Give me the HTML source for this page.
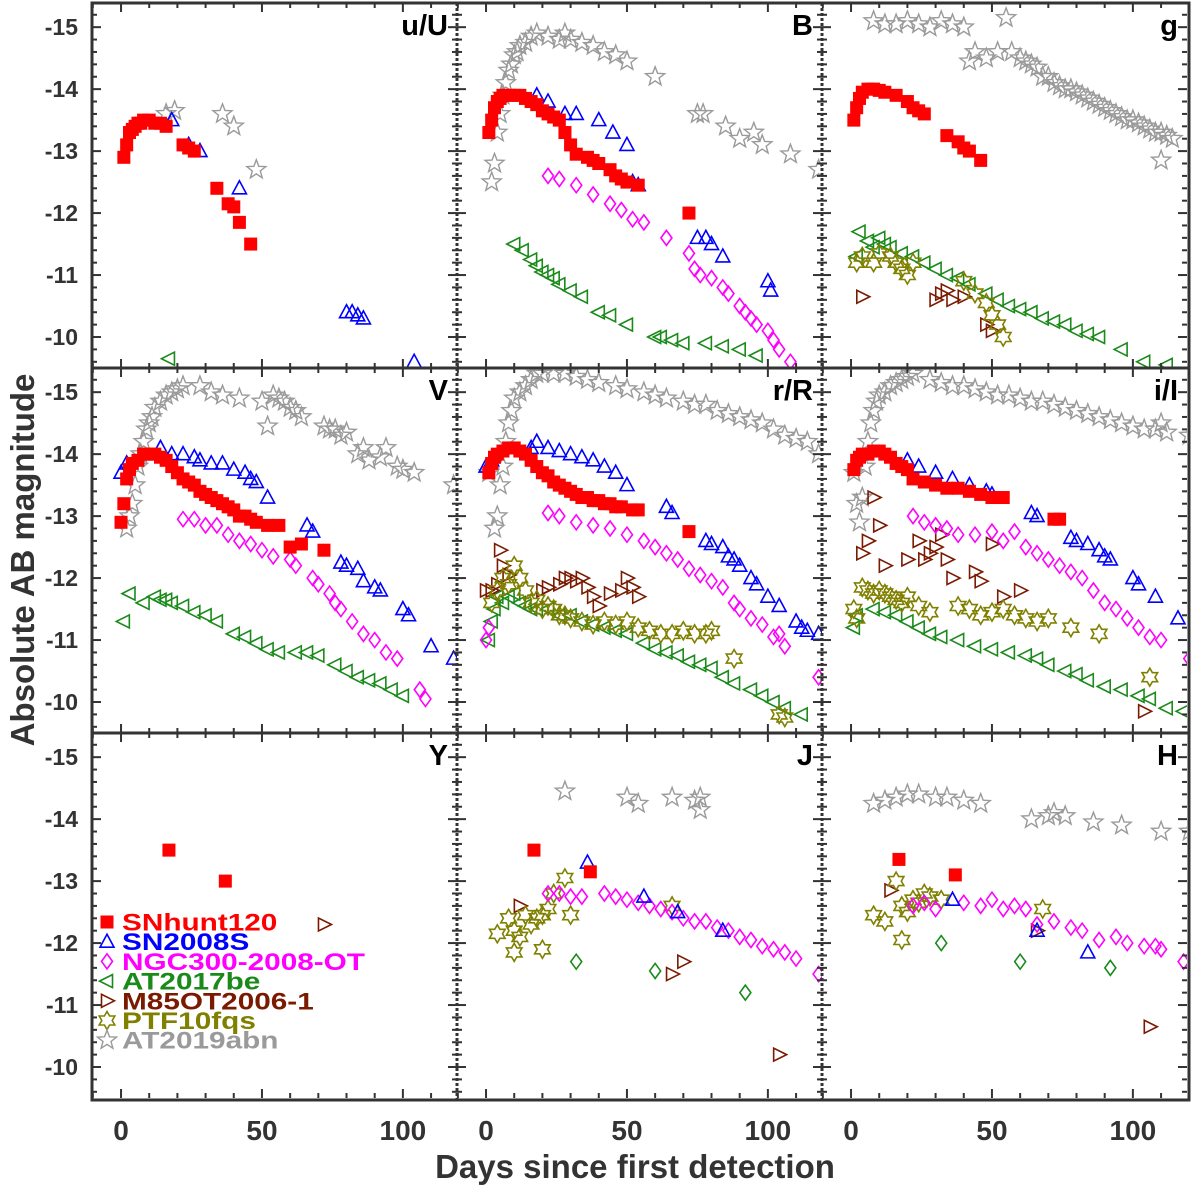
<!DOCTYPE html>
<html><head><meta charset="utf-8"><style>
body{margin:0;background:#fff}
svg{display:block}
text{font-family:"Liberation Sans",sans-serif;font-weight:bold}
</style></head><body>
<svg id="chart" width="1200" height="1187" viewBox="0 0 1200 1187" xmlns="http://www.w3.org/2000/svg">
<g id="marks"></g>
<g id="axes"></g>
</svg>
<script>
// ---- axis config ----
const xTicks = [0, 50, 100];
const yTicks = [-15, -14, -13, -12, -11, -10];
const panelLabels = ["u/U","B","g","V","r/R","i/I","Y","J","H"];
const seriesNames = ["SNhunt120","SN2008S","NGC300-2008-OT","AT2017be","M85OT2006-1","PTF10fqs","AT2019abn"];

// ---- data: [day, mag] ----
const uU_SNhunt120=[[1,-12.9],[2,-13.1],[3,-13.3],[4,-13.35],[5,-13.4],[6,-13.45],[7,-13.45],[8,-13.5],[10,-13.5],[12,-13.45],[14,-13.45],[16,-13.4],[22,-13.1],[24,-13.05],[26,-13.0],[34,-12.4],[38,-12.15],[40,-12.1],[42,-11.85],[46,-11.5]];
const uU_SN2008S=[[18,-13.5],[24,-13.1],[28,-13.0],[42,-12.4],[80,-10.4],[82,-10.4],[84,-10.35],[86,-10.3],[104,-9.6]];
const uU_AT2019abn=[[16,-13.6],[19,-13.65],[36,-13.6],[40,-13.4],[48,-12.7]];
const uU_AT2017be=[[17,-9.65]];

const B_AT2019abn=[[2,-12.5],[3,-12.8],[4,-13.3],[5,-13.6],[6,-13.9],[7,-14.1],[8,-14.3],[9,-14.4],[10,-14.55],[11,-14.6],[12,-14.7],[14,-14.75],[16,-14.85],[18,-14.9],[22,-14.85],[26,-14.8],[28,-14.9],[30,-14.8],[34,-14.75],[38,-14.7],[42,-14.6],[46,-14.55],[50,-14.45],[60,-14.2],[75,-13.6],[77,-13.6],[85,-13.4],[90,-13.2],[95,-13.3],[98,-13.1],[108,-12.95],[118,-12.7]];
const B_SNhunt120=[[1,-13.3],[2,-13.5],[3,-13.7],[4,-13.8],[5,-13.85],[6,-13.9],[8,-13.9],[10,-13.9],[12,-13.9],[14,-13.85],[16,-13.8],[18,-13.75],[20,-13.65],[22,-13.6],[24,-13.55],[26,-13.5],[28,-13.3],[30,-13.1],[32,-12.95],[36,-12.9],[38,-12.85],[40,-12.8],[44,-12.7],[46,-12.6],[48,-12.55],[50,-12.5],[54,-12.45],[72,-12.0]];
const B_SN2008S=[[18,-13.9],[22,-13.8],[28,-13.6],[32,-13.6],[40,-13.5],[45,-13.3],[50,-13.1],[52,-12.5],[54,-12.45],[75,-11.6],[78,-11.6],[80,-11.5],[84,-11.3],[100,-10.9],[101,-10.75]];
const B_NGC300=[[22,-12.6],[26,-12.55],[32,-12.45],[38,-12.3],[44,-12.15],[48,-12.05],[52,-11.9],[56,-11.85],[64,-11.6],[72,-11.35],[74,-11.1],[76,-11.0],[80,-10.95],[84,-10.8],[86,-10.7],[90,-10.5],[92,-10.4],[94,-10.3],[96,-10.2],[100,-10.1],[102,-9.95],[104,-9.8],[108,-9.6]];
const B_AT2017be=[[10,-11.5],[13,-11.4],[16,-11.25],[18,-11.15],[20,-11.05],[22,-11.0],[24,-10.95],[26,-10.85],[30,-10.75],[34,-10.65],[40,-10.4],[44,-10.35],[50,-10.2],[60,-10.0],[62,-10.0],[66,-9.95],[70,-9.9],[78,-9.9],[84,-9.85],[90,-9.8],[96,-9.7]];

const g_AT2019abn=[[8,-15.1],[12,-15.05],[16,-15.05],[20,-15.1],[24,-15.05],[28,-15.0],[32,-15.1],[36,-15.05],[40,-15.0],[42,-14.45],[44,-14.6],[48,-14.5],[52,-14.6],[55,-15.15],[57,-14.6],[60,-14.5],[62,-14.45],[64,-14.4],[66,-14.35],[68,-14.2],[70,-14.2],[72,-14.1],[74,-14.05],[76,-14.0],[78,-14.0],[80,-13.95],[82,-13.9],[84,-13.85],[86,-13.8],[88,-13.75],[90,-13.7],[92,-13.65],[94,-13.6],[96,-13.55],[98,-13.5],[100,-13.5],[102,-13.45],[104,-13.4],[106,-13.35],[108,-13.3],[110,-13.3],[112,-13.25],[114,-13.2],[110,-12.85]];
const g_SNhunt120=[[1,-13.5],[2,-13.7],[3,-13.85],[4,-13.95],[6,-14.0],[8,-14.0],[10,-13.98],[12,-13.95],[16,-13.9],[20,-13.8],[22,-13.7],[24,-13.65],[26,-13.6],[34,-13.25],[38,-13.15],[40,-13.05],[42,-13.0],[46,-12.85]];
const g_AT2017be=[[2,-11.3],[3,-11.7],[6,-11.55],[8,-11.45],[10,-11.6],[12,-11.5],[14,-11.45],[18,-11.35],[22,-11.3],[26,-11.2],[30,-11.1],[34,-11.0],[38,-10.95],[42,-10.85],[48,-10.7],[52,-10.6],[56,-10.5],[60,-10.45],[64,-10.4],[68,-10.3],[72,-10.25],[76,-10.2],[80,-10.1],[84,-10.05],[88,-10.0],[96,-9.8],[104,-9.6],[112,-9.55]];
const g_PTF10fqs=[[2,-11.2],[4,-11.3],[8,-11.2],[10,-11.35],[14,-11.3],[16,-11.2],[18,-11.1],[20,-11.0],[22,-11.2],[40,-10.9],[44,-10.7],[48,-10.55],[50,-10.35],[52,-10.2],[54,-10.0]];
const g_M85=[[4,-10.65],[30,-10.6],[32,-10.7],[34,-10.75],[36,-10.6],[40,-10.65],[48,-10.2],[50,-10.1]];

const V_AT2019abn=[[2,-12.8],[3,-13.0],[4,-13.2],[5,-13.5],[6,-13.8],[7,-14.0],[8,-14.2],[9,-14.4],[10,-14.5],[11,-14.6],[12,-14.75],[14,-14.85],[16,-14.95],[18,-15.0],[20,-15.05],[22,-15.1],[28,-15.1],[32,-15.0],[36,-14.95],[42,-14.9],[50,-14.85],[52,-14.45],[54,-14.95],[56,-14.9],[58,-14.85],[60,-14.75],[62,-14.7],[64,-14.6],[72,-14.45],[74,-14.4],[76,-14.4],[78,-14.3],[80,-14.35],[84,-14.0],[86,-14.1],[88,-13.9],[92,-13.95],[94,-14.1],[98,-13.8],[100,-13.75],[104,-13.7],[118,-13.5]];
const V_SNhunt120=[[0,-12.9],[1,-13.2],[2,-13.6],[3,-13.75],[4,-13.85],[6,-13.9],[8,-14.0],[10,-14.0],[12,-14.0],[14,-13.95],[16,-13.9],[18,-13.8],[20,-13.7],[22,-13.6],[24,-13.55],[26,-13.5],[28,-13.4],[30,-13.35],[32,-13.3],[34,-13.25],[36,-13.2],[38,-13.15],[40,-13.1],[42,-13.0],[44,-13.0],[46,-12.95],[48,-12.9],[52,-12.85],[56,-12.85],[60,-12.5],[64,-12.55],[72,-12.45]];
const V_SN2008S=[[0,-13.7],[2,-13.85],[14,-14.1],[18,-14.0],[22,-14.0],[26,-13.95],[28,-13.9],[32,-13.85],[36,-13.85],[40,-13.75],[44,-13.7],[46,-13.6],[48,-13.55],[52,-13.3],[66,-12.85],[68,-12.75],[78,-12.25],[80,-12.2],[84,-12.15],[86,-11.95],[90,-11.85],[92,-11.8],[100,-11.5],[102,-11.4],[110,-10.9],[118,-10.7]];
const V_NGC300=[[22,-12.95],[26,-12.95],[30,-12.85],[34,-12.85],[38,-12.7],[42,-12.6],[46,-12.55],[50,-12.45],[54,-12.35],[60,-12.3],[62,-12.2],[68,-12.0],[70,-11.9],[74,-11.75],[76,-11.6],[78,-11.5],[82,-11.3],[86,-11.1],[90,-11.0],[94,-10.8],[98,-10.7],[106,-10.2],[108,-10.05]];
const V_AT2017be=[[1,-11.3],[3,-11.75],[8,-11.6],[12,-11.7],[14,-11.65],[16,-11.65],[18,-11.6],[22,-11.55],[26,-11.45],[30,-11.4],[34,-11.3],[40,-11.1],[44,-11.05],[48,-10.95],[52,-10.85],[56,-10.8],[62,-10.8],[66,-10.8],[70,-10.75],[76,-10.6],[80,-10.5],[84,-10.4],[88,-10.35],[92,-10.3],[96,-10.2],[100,-10.1]];

const R_AT2019abn=[[1,-13.7],[3,-12.8],[4,-13.0],[5,-13.5],[6,-13.8],[7,-14.2],[8,-14.5],[9,-14.7],[10,-14.9],[12,-15.0],[14,-15.1],[16,-15.2],[18,-15.3],[20,-15.3],[24,-15.3],[28,-15.3],[32,-15.25],[36,-15.2],[40,-15.15],[46,-15.1],[50,-15.05],[56,-15.0],[60,-14.95],[64,-14.9],[70,-14.85],[74,-14.8],[78,-14.8],[82,-14.7],[86,-14.65],[90,-14.6],[94,-14.55],[98,-14.5],[102,-14.4],[106,-14.3],[110,-14.25],[114,-14.2],[118,-14.0]];
const R_SNhunt120=[[1,-13.7],[2,-13.85],[3,-13.95],[4,-14.0],[6,-14.05],[8,-14.1],[10,-14.1],[12,-14.05],[14,-14.0],[16,-13.9],[18,-13.8],[20,-13.7],[22,-13.65],[24,-13.55],[26,-13.5],[28,-13.45],[30,-13.4],[32,-13.35],[34,-13.3],[36,-13.3],[38,-13.25],[40,-13.25],[42,-13.2],[44,-13.2],[46,-13.15],[48,-13.15],[52,-13.1],[54,-13.1],[72,-12.75]];
const R_SN2008S=[[0,-13.8],[2,-13.9],[16,-14.1],[18,-14.2],[22,-14.1],[26,-14.05],[30,-14.0],[34,-13.95],[38,-13.9],[42,-13.8],[46,-13.7],[50,-13.5],[64,-13.15],[66,-13.05],[78,-12.6],[80,-12.55],[84,-12.5],[86,-12.35],[88,-12.3],[90,-12.2],[94,-12.0],[96,-11.9],[100,-11.7],[104,-11.55],[110,-11.3],[112,-11.2],[114,-11.15],[118,-11.1]];
const R_NGC300=[[0,-11.0],[1,-11.2],[22,-13.05],[26,-13.0],[32,-12.9],[38,-12.85],[44,-12.8],[50,-12.7],[56,-12.6],[60,-12.5],[64,-12.4],[68,-12.3],[72,-12.15],[76,-12.05],[80,-11.95],[84,-11.85],[88,-11.6],[90,-11.5],[94,-11.35],[98,-11.25],[102,-11.05],[104,-11.1],[106,-10.9],[118,-10.4]];
const R_AT2017be=[[1,-11.0],[2,-11.3],[3,-11.5],[4,-11.7],[6,-11.6],[8,-11.7],[10,-11.75],[12,-11.6],[14,-11.55],[16,-11.5],[18,-11.5],[22,-11.5],[26,-11.4],[30,-11.4],[34,-11.3],[38,-11.25],[42,-11.2],[46,-11.15],[50,-11.1],[56,-10.95],[60,-10.85],[64,-10.8],[68,-10.75],[72,-10.65],[76,-10.6],[80,-10.55],[84,-10.4],[88,-10.3],[94,-10.2],[98,-10.1],[102,-10.0],[106,-9.9],[112,-9.8]];
const R_M85=[[0,-11.8],[2,-11.8],[4,-11.9],[5,-12.45],[6,-12.2],[8,-12.05],[20,-11.8],[22,-11.85],[26,-11.9],[28,-12.0],[30,-12.0],[32,-11.95],[34,-12.0],[36,-11.85],[38,-11.7],[40,-11.55],[44,-11.75],[48,-11.8],[50,-12.0],[52,-11.85],[54,-11.7]];
const R_PTF10fqs=[[2,-11.6],[4,-11.8],[6,-12.0],[8,-11.9],[10,-12.2],[12,-12.0],[14,-11.8],[16,-11.6],[18,-11.65],[20,-11.5],[22,-11.55],[24,-11.5],[26,-11.4],[28,-11.4],[30,-11.35],[34,-11.3],[38,-11.25],[42,-11.3],[46,-11.25],[50,-11.3],[54,-11.2],[58,-11.15],[62,-11.1],[66,-11.1],[70,-11.15],[74,-11.1],[78,-11.1],[80,-11.15],[88,-10.7],[104,-9.8],[106,-9.75]];

const I_AT2019abn=[[1,-13.7],[2,-13.2],[3,-12.9],[4,-13.3],[5,-13.8],[6,-14.2],[7,-14.5],[8,-14.7],[9,-14.85],[10,-14.95],[12,-15.0],[14,-15.1],[16,-15.15],[18,-15.2],[20,-15.25],[22,-15.3],[28,-15.2],[32,-15.15],[36,-15.1],[40,-15.1],[44,-15.05],[48,-15.0],[52,-14.95],[56,-14.95],[60,-14.9],[64,-14.85],[68,-14.85],[72,-14.8],[76,-14.75],[80,-14.7],[84,-14.65],[88,-14.6],[92,-14.55],[96,-14.5],[100,-14.45],[104,-14.4],[108,-14.4],[110,-14.5],[112,-14.35],[120,-14.3]];
const I_SNhunt120=[[1,-13.75],[2,-13.9],[3,-13.95],[4,-14.0],[6,-14.0],[8,-14.05],[10,-14.05],[12,-14.0],[14,-13.95],[16,-13.85],[18,-13.8],[20,-13.75],[22,-13.6],[26,-13.55],[30,-13.5],[34,-13.45],[38,-13.45],[42,-13.4],[46,-13.35],[50,-13.3],[54,-13.3],[72,-12.95],[74,-12.95]];
const I_SN2008S=[[20,-13.9],[24,-13.8],[30,-13.7],[36,-13.6],[42,-13.5],[48,-13.4],[50,-13.35],[64,-13.05],[66,-13.0],[78,-12.65],[80,-12.6],[84,-12.55],[88,-12.45],[90,-12.35],[92,-12.3],[100,-12.0],[102,-11.9],[108,-11.7],[116,-11.35]];
const I_NGC300=[[22,-13.0],[26,-12.9],[30,-12.85],[34,-12.8],[38,-12.7],[44,-12.7],[50,-12.75],[54,-12.6],[58,-12.75],[62,-12.5],[66,-12.4],[70,-12.3],[74,-12.2],[78,-12.1],[82,-12.0],[86,-11.8],[90,-11.6],[94,-11.5],[98,-11.35],[102,-11.2],[106,-11.05],[110,-11.0],[120,-10.7]];
const I_AT2017be=[[1,-11.2],[2,-11.4],[8,-11.5],[12,-11.45],[16,-11.4],[20,-11.3],[24,-11.2],[28,-11.1],[32,-11.05],[38,-11.0],[44,-10.9],[50,-10.85],[56,-10.8],[62,-10.75],[66,-10.7],[70,-10.6],[76,-10.5],[80,-10.45],[84,-10.35],[90,-10.25],[96,-10.2],[102,-10.1],[106,-10.05],[112,-9.9],[118,-9.85]];
const I_M85=[[4,-12.4],[6,-12.6],[8,-13.3],[10,-12.85],[12,-12.2],[20,-12.3],[24,-12.6],[26,-12.3],[28,-12.4],[30,-12.5],[32,-12.7],[34,-12.3],[36,-12.0],[44,-12.1],[46,-11.95],[50,-12.55],[54,-11.7],[60,-11.8],[104,-9.85]];
const I_PTF10fqs=[[1,-11.5],[2,-11.35],[4,-11.85],[6,-11.8],[8,-11.75],[10,-11.8],[12,-11.75],[14,-11.7],[16,-11.65],[18,-11.6],[20,-11.7],[24,-11.55],[28,-11.45],[38,-11.55],[42,-11.5],[46,-11.4],[50,-11.45],[54,-11.5],[58,-11.4],[62,-11.35],[66,-11.3],[70,-11.35],[78,-11.2],[88,-11.1],[106,-10.4]];

const Y_SNhunt120=[[17,-13.5],[37,-13.0]];
const Y_M85=[[72,-12.3]];

const J_AT2019abn=[[28,-14.45],[50,-14.35],[54,-14.25],[66,-14.35],[74,-14.3],[76,-14.35],[76,-14.15]];
const J_SNhunt120=[[17,-13.5],[37,-13.15]];
const J_SN2008S=[[36,-13.3],[56,-12.75],[68,-12.5],[84,-12.2]];
const J_NGC300=[[22,-12.8],[26,-12.8],[30,-12.75],[34,-12.75],[42,-12.8],[46,-12.75],[50,-12.7],[54,-12.65],[58,-12.6],[62,-12.55],[66,-12.5],[70,-12.4],[74,-12.35],[78,-12.35],[82,-12.25],[86,-12.2],[90,-12.1],[94,-12.05],[98,-11.95],[102,-11.9],[106,-11.85],[110,-11.75],[118,-11.5]];
const J_PTF10fqs=[[4,-12.15],[8,-12.4],[10,-12.2],[12,-12.1],[14,-12.45],[16,-12.3],[18,-12.4],[20,-12.45],[22,-12.55],[24,-12.8],[28,-13.05],[30,-12.45],[10,-11.85],[20,-11.9],[66,-12.6]];
const J_M85=[[12,-12.6],[66,-11.5],[70,-11.7],[104,-10.2]];
const J_Other=[[32,-11.7],[60,-11.55],[92,-11.2]];

const H_AT2019abn=[[8,-14.25],[12,-14.3],[16,-14.35],[20,-14.4],[24,-14.4],[30,-14.35],[34,-14.35],[40,-14.3],[46,-14.25],[64,-14.0],[70,-14.05],[72,-14.1],[76,-14.05],[86,-13.95],[96,-13.9],[110,-13.8],[120,-13.8]];
const H_SNhunt120=[[17,-13.35],[37,-13.1]];
const H_SN2008S=[[36,-12.7],[66,-12.2],[84,-11.85]];
const H_NGC300=[[22,-12.6],[26,-12.65],[30,-12.55],[40,-12.65],[46,-12.6],[50,-12.7],[54,-12.55],[58,-12.6],[62,-12.55],[66,-12.3],[72,-12.35],[78,-12.25],[82,-12.2],[88,-12.05],[94,-12.1],[98,-12.0],[104,-11.95],[108,-11.95],[110,-11.9],[118,-11.7]];
const H_PTF10fqs=[[8,-12.45],[12,-12.35],[16,-13.0],[18,-12.6],[20,-12.5],[22,-12.7],[24,-12.65],[26,-12.8],[28,-12.75],[32,-12.7],[18,-12.05],[68,-12.55]];
const H_M85=[[14,-12.85],[66,-12.2],[106,-10.65]];
const H_Other=[[32,-12.0],[60,-11.7],[92,-11.6]];

// ---- layout ----
const NS="http://www.w3.org/2000/svg";
const colX=[92,457,822], colW=365, rowY=[3,368,733], rowH=365;
const xMin=-10.3, xMax=119.2, yTop=-15.39, yBot=-9.5;
function xs(c,d){return colX[c]+(d-xMin)/(xMax-xMin)*colW;}
function ys(r,m){return rowY[r]+(m-yTop)/(yBot-yTop)*rowH;}
const COL={sn:"#ff0000",s08:"#0000ff",ngc:"#ff00ff",at17:"#1a8a1a",m85:"#7a1a00",ptf:"#808000",abn:"#9a9a9a",oth:"#1a8a1a"};
const marks=document.getElementById('marks'), axes=document.getElementById('axes');
function mk(tag,attrs,parent){const e=document.createElementNS(NS,tag);for(const k in attrs)e.setAttribute(k,attrs[k]);parent.appendChild(e);return e;}
function starPts(x,y,n,ro,ri){let p=[];for(let i=0;i<2*n;i++){const r=i%2?ri:ro;const a=-Math.PI/2+i*Math.PI/n;p.push((x+r*Math.cos(a)).toFixed(1)+","+(y+r*Math.sin(a)).toFixed(1));}return p.join(" ");}
function marker(type,x,y,parent){
  let e;
  if(type==="sn"){e=mk('rect',{x:x-6.5,y:y-6.5,width:13,height:13,fill:COL.sn},parent);}
  else if(type==="s08"){e=mk('polygon',{points:`${x},${y-7.5} ${x-7},${y+5.5} ${x+7},${y+5.5}`,fill:"none",stroke:COL.s08,"stroke-width":1.6},parent);}
  else if(type==="ngc"||type==="oth"){e=mk('polygon',{points:`${x},${y-7.5} ${x+5.5},${y} ${x},${y+7.5} ${x-5.5},${y}`,fill:"none",stroke:COL[type],"stroke-width":1.6},parent);}
  else if(type==="at17"){e=mk('polygon',{points:`${x-7.5},${y} ${x+5.5},${y-6.5} ${x+5.5},${y+6.5}`,fill:"none",stroke:COL.at17,"stroke-width":1.6},parent);}
  else if(type==="m85"){e=mk('polygon',{points:`${x+7.5},${y} ${x-5.5},${y-6.5} ${x-5.5},${y+6.5}`,fill:"none",stroke:COL.m85,"stroke-width":1.6},parent);}
  else if(type==="ptf"){e=mk('polygon',{points:starPts(x,y,6,9,5.2),fill:"none",stroke:COL.ptf,"stroke-width":1.6},parent);}
  else {e=mk('polygon',{points:starPts(x,y,5,10,4.2),fill:"none",stroke:COL.abn,"stroke-width":1.4},parent);}
  return e;
}
function plot(c,r,data,type,name){
  const g=mk('g',{},marks);
  
  
  g.setAttribute('clip-path',`url(#clip${r}${c})`);
  data.forEach(p=>{
    const e=marker(type,xs(c,p[0]),ys(r,p[1]),g);
    
    
  });
}
const defs=mk('defs',{},document.getElementById('chart'));
for(let r=0;r<3;r++)for(let c=0;c<3;c++){const cp=mk('clipPath',{id:`clip${r}${c}`},defs);mk('rect',{x:colX[c],y:rowY[r],width:colW,height:rowH},cp);}

const P=[
 [0,0,uU_AT2019abn,"abn"],[0,0,uU_AT2017be,"at17"],[0,0,uU_SN2008S,"s08"],[0,0,uU_SNhunt120,"sn"],
 [1,0,B_AT2019abn,"abn"],[1,0,B_AT2017be,"at17"],[1,0,B_NGC300,"ngc"],[1,0,B_SN2008S,"s08"],[1,0,B_SNhunt120,"sn"],
 [2,0,g_AT2019abn,"abn"],[2,0,g_AT2017be,"at17"],[2,0,g_M85,"m85"],[2,0,g_PTF10fqs,"ptf"],[2,0,g_SNhunt120,"sn"],
 [0,1,V_AT2019abn,"abn"],[0,1,V_AT2017be,"at17"],[0,1,V_NGC300,"ngc"],[0,1,V_SN2008S,"s08"],[0,1,V_SNhunt120,"sn"],
 [1,1,R_AT2019abn,"abn"],[1,1,R_AT2017be,"at17"],[1,1,R_M85,"m85"],[1,1,R_PTF10fqs,"ptf"],[1,1,R_NGC300,"ngc"],[1,1,R_SN2008S,"s08"],[1,1,R_SNhunt120,"sn"],
 [2,1,I_AT2019abn,"abn"],[2,1,I_AT2017be,"at17"],[2,1,I_M85,"m85"],[2,1,I_PTF10fqs,"ptf"],[2,1,I_NGC300,"ngc"],[2,1,I_SN2008S,"s08"],[2,1,I_SNhunt120,"sn"],
 [0,2,Y_M85,"m85"],[0,2,Y_SNhunt120,"sn"],
 [1,2,J_AT2019abn,"abn"],[1,2,J_Other,"oth"],[1,2,J_M85,"m85"],[1,2,J_PTF10fqs,"ptf"],[1,2,J_NGC300,"ngc"],[1,2,J_SN2008S,"s08"],[1,2,J_SNhunt120,"sn"],
 [2,2,H_AT2019abn,"abn"],[2,2,H_Other,"oth"],[2,2,H_M85,"m85"],[2,2,H_PTF10fqs,"ptf"],[2,2,H_NGC300,"ngc"],[2,2,H_SN2008S,"s08"],[2,2,H_SNhunt120,"sn"]
];
P.forEach(p=>plot(p[0],p[1],p[2],p[3],"series-"+p[3]));

// ---- axes: ticks and frames ----
const AX="#333";
for(let r=0;r<3;r++)for(let c=0;c<3;c++){
  const x0=colX[c],x1=x0+colW,y0=rowY[r],y1=y0+rowH;
  for(let d=-10;d<=110;d+=10){const x=xs(c,d);const L=(d%50===0)?9:5;
    mk('line',{x1:x,y1:y1,x2:x,y2:y1-L,stroke:AX,"stroke-width":2},axes);
    mk('line',{x1:x,y1:y0,x2:x,y2:y0+L,stroke:AX,"stroke-width":2},axes);}
  for(let m=-15.2;m<=-9.6;m+=0.2){const mm=Math.round(m*10)/10;const y=ys(r,mm);const L=(Math.abs(mm-Math.round(mm))<0.01)?9:5;
    mk('line',{x1:x0,y1:y,x2:x0+L,y2:y,stroke:AX,"stroke-width":2},axes);
    mk('line',{x1:x1,y1:y,x2:x1-L,y2:y,stroke:AX,"stroke-width":2},axes);}
  const t=mk('text',{x:x1-9,y:y0+32,"text-anchor":"end","font-size":29,fill:"#000"},axes);
  t.textContent=panelLabels[r*3+c];
  
  
}
mk('rect',{x:92,y:3,width:1097,height:1097,fill:"none",stroke:AX,"stroke-width":3},axes);
[368,733].forEach(y=>mk('line',{x1:92,y1:y,x2:1189,y2:y,stroke:AX,"stroke-width":3},axes));
[457,822].forEach(x=>mk('line',{x1:x,y1:3,x2:x,y2:1100,stroke:AX,"stroke-width":3,"stroke-dasharray":"3,2"},axes));
// tick labels
for(let r=0;r<3;r++)yTicks.forEach(v=>{const t=mk('text',{x:78,y:ys(r,v)+8,"text-anchor":"end","font-size":23,fill:AX},axes);t.textContent=String(v);
  
  });
for(let c=0;c<3;c++)xTicks.forEach(v=>{const t=mk('text',{x:xs(c,v),y:1140,"text-anchor":"middle","font-size":28,fill:AX},axes);t.textContent=String(v);
  
  });
const xl=mk('text',{x:635,y:1178,"text-anchor":"middle","font-size":33,fill:AX},axes);xl.textContent="Days since first detection";


const yl=mk('text',{x:0,y:0,"text-anchor":"middle","font-size":33,fill:AX,transform:"translate(34,560) rotate(-90)"},axes);yl.textContent="Absolute AB magnitude";


// legend
const legTypes=["sn","s08","ngc","at17","m85","ptf","abn"];
const legCols=[COL.sn,COL.s08,COL.ngc,COL.at17,COL.m85,COL.ptf,COL.abn];
legTypes.forEach((tp,i)=>{const y=922+i*19.7;
  const g=mk('g',{},axes);
  
  
  marker(tp,107,y,g);
  const t=mk('text',{x:0,y:0,"font-size":24,fill:legCols[i],transform:`translate(122,${y+8.5}) scale(1.24,1)`},g);t.textContent=seriesNames[i];});
</script>
</body></html>
